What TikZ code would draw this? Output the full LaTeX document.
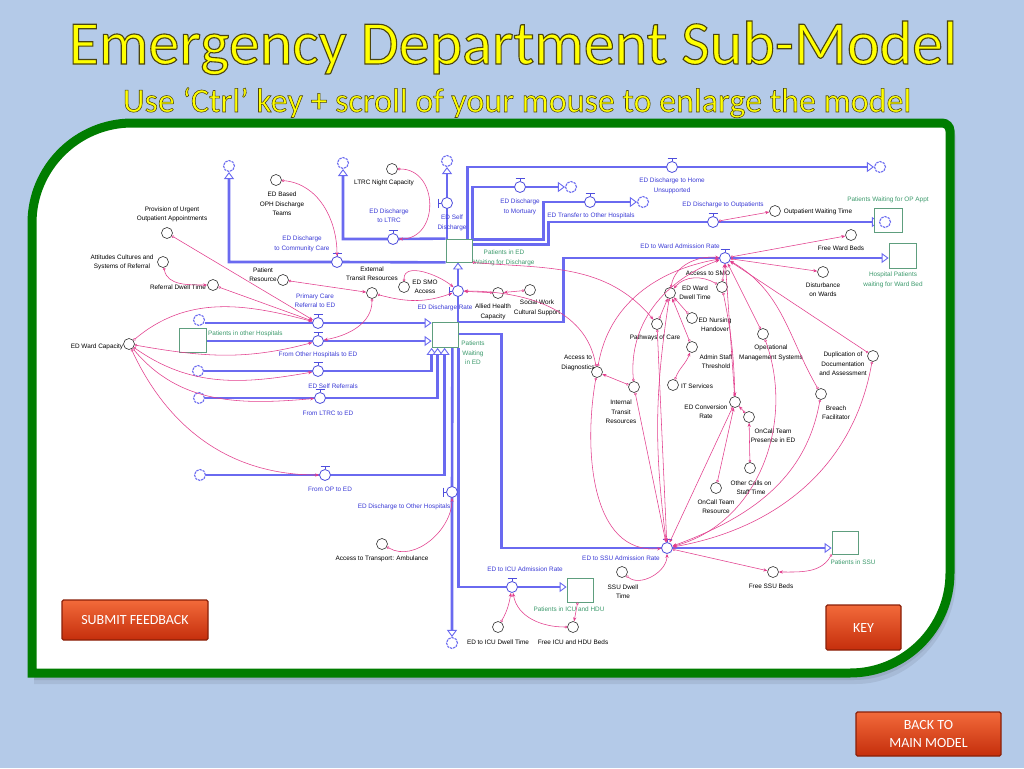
\documentclass[tikz,border=0pt]{standalone}
\usepackage{fontspec}
\setmainfont{Liberation Sans}
\newfontfamily\slidefont{Carlito}
\usetikzlibrary{arrows.meta}
\definecolor{slidebg}{HTML}{B4CAE8}
\definecolor{framegreen}{HTML}{007D00}
\definecolor{titleyellow}{HTML}{FFFF00}
\definecolor{pipeblue}{HTML}{6A6AF0}
\definecolor{valveblue}{HTML}{4E4EDC}
\definecolor{flowtext}{HTML}{3A3AD6}
\definecolor{stockline}{HTML}{5E9E7E}
\definecolor{stocktext}{HTML}{3C9A6C}
\definecolor{linkpink}{HTML}{E23C8C}
\definecolor{btnhi}{HTML}{F26A3A}
\definecolor{btnlo}{HTML}{C52E0C}

\pgfdeclarelayer{bg}
\pgfdeclarelayer{pipes}
\pgfsetlayers{bg,pipes,main}

\tikzset{
  lab/.style={font=\fontsize{6.4}{9.4}\selectfont, align=center, inner sep=0pt},
  stock/.style={draw=stockline, fill=white, line width=0.8pt, inner sep=0pt},
  stocklab/.style={lab, text=stocktext},
  conv/.style={circle, draw=black!80, fill=white, line width=0.6pt, minimum size=11pt, inner sep=0pt},
  convlab/.style={lab, text=black},
  valve/.style={circle, draw=valveblue, fill=white, line width=0.8pt, minimum size=11pt, inner sep=0pt},
  valvebar/.style={draw=valveblue, line width=0.8pt},
  flowlab/.style={lab, text=flowtext},
  cloud/.style={circle, draw=pipeblue, fill=white, line width=1.1pt, dash pattern=on 2.4pt off 0.9pt, minimum size=11pt, inner sep=0pt},
  pipe/.style={draw=pipeblue, line width=2.6pt},
  pipein/.style={pipe, -{Triangle[fill=white, length=7pt, width=10pt, line width=0.9pt]}},
  link/.style={draw=linkpink, line width=0.55pt, {Circle[open, length=2.6pt, width=2.6pt, line width=0.5pt]}-{Stealth[length=4pt, width=3.2pt]}},
  button/.style={draw=btnlo!70!black, line width=1.2pt, top color=btnhi, bottom color=btnlo, text=white, align=center, rounded corners=1.5pt, font=\slidefont\fontsize{14}{17}\selectfont}
}

\newcommand\valvetop[1]{\draw[valvebar] (#1.north) -- ++(0,-3) ++(-4.5,0) -- ++(9,0);}
\newcommand\valveside[1]{\draw[valvebar] (#1.west) -- ++(-3,0) ++(0,-4.5) -- ++(0,9);}
% yellow letters with a dark edge (fill and stroke); #1 = edge width
\newcommand\edged[2]{\textcolor{titleyellow}{\special{pdf:literal direct 2 Tr #1 w 0.3 0.27 0.05 RG}#2\special{pdf:literal direct 0 Tr}}}

\begin{document}
\begin{tikzpicture}[x=1pt,y=-1pt]
  \useasboundingbox (0,0) rectangle (1024,768);

  \begin{pgfonlayer}{bg}
    \fill[slidebg] (0,0) rectangle (1024,768);
    % soft shadow of the panel
    \fill[black,opacity=.07] (34,684) -- (34,229) .. controls (34,174) and (79,129) .. (134,129) -- (948,129) .. controls (952.4,129) and (956,132.6) .. (956,137) -- (956,579) .. controls (956,634) and (911,684) .. (856,684) -- cycle;
    \fill[black,opacity=.08] (34,680) -- (34,227) .. controls (34,172) and (79,127) .. (134,127) -- (946,127) .. controls (950.4,127) and (954,130.6) .. (954,135) -- (954,577) .. controls (954,632) and (909,680) .. (854,680) -- cycle;
    % panel
    \fill[white] (32,673) -- (32,223) .. controls (32,168) and (77,123) .. (132,123) -- (942,123) .. controls (946.4,123) and (950,126.6) .. (950,131) -- (950,573) .. controls (950,628) and (905,673) .. (850,673) -- cycle;
    \draw[framegreen, line width=9pt] (32,673) -- (32,223) .. controls (32,168) and (77,123) .. (132,123) -- (942,123) .. controls (946.4,123) and (950,126.6) .. (950,131) -- (950,573) .. controls (950,628) and (905,673) .. (850,673) -- cycle;
  \end{pgfonlayer}

  % title
  \node[font=\slidefont\fontsize{62}{62}\selectfont, anchor=base, inner sep=0pt] (title) at (513,64) {\edged{1.1}{Emergency Department Sub-Model}};
  \node[font=\slidefont\fontsize{34}{34}\selectfont, anchor=base, inner sep=0pt] (sub) at (517,112) {\edged{0.55}{Use ‘Ctrl’ key + scroll of your mouse to enlarge the model}};

  % stocks
  \node[stock, minimum width=26pt, minimum height=23pt] (wd) at (459,250.5) {};
  \node[stock, minimum width=26pt, minimum height=25pt] (we) at (445,335) {};
  \node[stock, minimum width=27pt, minimum height=24pt] (oh) at (192.5,340) {};
  \node[stock, minimum width=28pt, minimum height=24pt] (opq) at (888,220) {};
  \node[stock, minimum width=27pt, minimum height=25pt] (hw) at (902.5,256) {};
  \node[stock, minimum width=26pt, minimum height=23pt] (ssu) at (845,542.5) {};
  \node[stock, minimum width=26pt, minimum height=24pt] (icu) at (580,590) {};

  \node[stocklab] (lwd) at (504,258) {Patients in ED\\Waiting for Discharge};
  \node[stocklab] (lwe) at (473,353) {Patients\\Waiting\\in ED};
  \node[stocklab, anchor=west] (loh) at (208,334) {Patients in other Hospitals};
  \node[stocklab] (lopq) at (888,200) {Patients Waiting for OP Appt};
  \node[stocklab] (lhw) at (893,280) {Hospital Patients\\waiting for Ward Bed};
  \node[stocklab] (lssu) at (853,562) {Patients in SSU};
  \node[stocklab] (licu) at (569,609) {Patients in ICU and HDU};

  % clouds
  \node[cloud] (ccom) at (229,166) {};
  \node[cloud] (cltrc) at (343,163) {};
  \node[cloud] (csd) at (447,161) {};
  \node[cloud] (chome) at (880,167) {};
  \node[cloud] (cmort) at (571,187) {};
  \node[cloud] (ctrans) at (643,202) {};
  \node[cloud] (cop) at (885,222) {};
  \node[cloud] (cpc) at (199,320) {};
  \node[cloud] (csr) at (198,371) {};
  \node[cloud] (clr) at (199,398) {};
  \node[cloud] (copin) at (200,475) {};
  \node[cloud] (cdo) at (452,643) {};

  % valves
  \node[valve] (vcom) at (337,262) {};
  \node[valve] (vlt) at (393,239) {};
  \node[valve] (vsd) at (447,203) {};
  \node[valve] (vhome) at (672,167) {};
  \node[valve] (vmort) at (520,187) {};
  \node[valve] (vtrans) at (590,202) {};
  \node[valve] (vopo) at (713,222) {};
  \node[valve] (vward) at (725,258) {};
  \node[valve] (vdis) at (458,291) {};
  \node[valve] (vpc) at (318,323) {};
  \node[valve] (voh) at (318,341) {};
  \node[valve] (vsr) at (318,371) {};
  \node[valve] (vlr) at (320,398) {};
  \node[valve] (vopin) at (325,475) {};
  \node[valve] (vdo) at (452,492) {};
  \node[valve] (vicu) at (512,587) {};
  \node[valve] (vssu) at (667,548) {};
  \valvetop{vcom} \valvetop{vlt} \valvetop{vhome} \valvetop{vmort}
  \valvetop{vtrans} \valvetop{vopo} \valvetop{vward} \valvetop{vpc}
  \valvetop{voh} \valvetop{vsr} \valvetop{vlr} \valvetop{vopin}
  \valvetop{vicu} \valvetop{vssu}
  \valveside{vsd} \valveside{vdis} \valveside{vdo}

  \node[flowlab] (lcom) at (302,244) {ED Discharge\\to Community Care};
  \node[flowlab] (llt) at (389,216) {ED Discharge\\to LTRC};
  \node[flowlab] (lsd) at (452,223) {ED Self\\Discharge};
  \node[flowlab] (lhome) at (672,186) {ED Discharge to Home\\Unsupported};
  \node[flowlab] (lmort) at (520,207) {ED Discharge\\to Mortuary};
  \node[flowlab] (ltrans) at (591,216) {ED Transfer to Other Hospitals};
  \node[flowlab] (lopo) at (723,205) {ED Discharge to Outpatients};
  \node[flowlab] (lward) at (680,246) {ED to Ward Admission Rate};
  \node[flowlab] (ldis) at (445,308) {ED Discharge Rate};
  \node[flowlab] (lpc) at (315,300.5) {Primary Care\\Referral to ED};
  \node[flowlab] (loh2) at (318,355) {From Other Hospitals to ED};
  \node[flowlab] (lsr) at (333,386) {ED Self Referrals};
  \node[flowlab] (llr) at (328,413) {From LTRC to ED};
  \node[flowlab] (lopin) at (330,489) {From OP to ED};
  \node[flowlab] (ldo) at (404,507) {ED Discharge to Other Hospitals};
  \node[flowlab] (licu2) at (525,569) {ED to ICU Admission Rate};
  \node[flowlab] (lssu2) at (621,558) {ED to SSU Admission Rate};

  % converters
  \node[conv] (opht) at (276,180) {};
  \node[conv] (ltn) at (392,169) {};
  \node[conv] (prov) at (167,233) {};
  \node[conv] (att) at (163,262) {};
  \node[conv] (ref) at (213,285) {};
  \node[conv] (pres) at (283,280) {};
  \node[conv] (etr) at (372,293) {};
  \node[conv] (smo) at (404,287) {};
  \node[conv] (ahc) at (498,293) {};
  \node[conv] (scw) at (530,290) {};
  \node[conv] (ewc) at (129,344) {};
  \node[conv] (owt) at (775,211) {};
  \node[conv] (fwb) at (851,235) {};
  \node[conv] (dow) at (823,272) {};
  \node[conv] (asmo) at (722,287) {};
  \node[conv] (ewdt) at (670,293) {};
  \node[conv] (ednh) at (692,318) {};
  \node[conv] (poc) at (657,324) {};
  \node[conv] (ast) at (692,347) {};
  \node[conv] (its) at (673,385) {};
  \node[conv] (adg) at (597,372) {};
  \node[conv] (itr) at (634,387) {};
  \node[conv] (ecr) at (735,402) {};
  \node[conv] (ocp) at (749,417) {};
  \node[conv] (ocs) at (750,468) {};
  \node[conv] (octr) at (716,488) {};
  \node[conv] (oms) at (763,334) {};
  \node[conv] (dup) at (873,356) {};
  \node[conv] (bfc) at (821,394) {};
  \node[conv] (ssdw) at (622,572) {};
  \node[conv] (fssu) at (773,572) {};
  \node[conv] (ficu) at (573,627) {};
  \node[conv] (icdw) at (498,627) {};
  \node[conv] (ata) at (382,544) {};

  \node[convlab] (lopht) at (282,204) {ED Based\\OPH Discharge\\Teams};
  \node[convlab] (lltn) at (384,183) {LTRC Night Capacity};
  \node[convlab] (lprov) at (172,214.5) {Provision of Urgent\\Outpatient Appointments};
  \node[convlab] (latt) at (122,262.5) {Attitudes Cultures and\\Systems of Referral};
  \node[convlab] (lref) at (178,287) {Referral Dwell Time};
  \node[convlab] (lpres) at (263,275) {Patient\\Resource};
  \node[convlab] (letr) at (372,274) {External\\Transit Resources};
  \node[convlab] (lsmo) at (425,287) {ED SMO\\Access};
  \node[convlab] (lahc) at (493,312) {Allied Health\\Capacity};
  \node[convlab] (lscw) at (537,308) {Social Work\\Cultural Support};
  \node[convlab] (lewc) at (97,347) {ED Ward Capacity};
  \node[convlab] (lowt) at (818,212) {Outpatient Waiting Time};
  \node[convlab] (lfwb) at (841,248) {Free Ward Beds};
  \node[convlab] (ldow) at (823,290) {Disturbance\\on Wards};
  \node[convlab] (lasmo) at (708,273) {Access to SMO};
  \node[convlab] (lewdt) at (695,293) {ED Ward\\Dwell Time};
  \node[convlab] (lednh) at (715,325) {ED Nursing\\Handover};
  \node[convlab] (lpoc) at (655,338) {Pathways of Care};
  \node[convlab] (last) at (716,362) {Admin Staff\\Threshold};
  \node[convlab] (lits) at (697,386) {IT Services};
  \node[convlab] (ladg) at (578,363) {Access to\\Diagnostics};
  \node[convlab] (litr) at (621,412) {Internal\\Transit\\Resources};
  \node[convlab] (lecr) at (706,412) {ED Conversion\\Rate};
  \node[convlab] (locp) at (773,436) {OnCall Team\\Presence in ED};
  \node[convlab] (locs) at (751,488) {Other Calls on\\Staff Time};
  \node[convlab] (loctr) at (716,507) {OnCall Team\\Resource};
  \node[convlab] (loms) at (771,353) {Operational\\Management Systems};
  \node[convlab] (ldup) at (843,364) {Duplication of\\Documentation\\and Assessment};
  \node[convlab] (lbfc) at (836,413) {Breach\\Facilitator};
  \node[convlab] (lssdw) at (623,592) {SSU Dwell\\Time};
  \node[convlab] (lfssu) at (771,586) {Free SSU Beds};
  \node[convlab] (lficu) at (573,642) {Free ICU and HDU Beds};
  \node[convlab] (licdw) at (498,642) {ED to ICU Dwell Time};
  \node[convlab] (lata) at (382,559) {Access to Transport: Ambulance};

  % flows
  \begin{pgfonlayer}{pipes}
    \draw[pipein] (wd.south west) -- (vcom.center) -| (ccom);
    \draw[pipein] (wd.north west) -- (vlt.center) -| (cltrc);
    \draw[pipein] (vsd.center |- wd.north) -- (vsd.center) -- (csd);
    \draw[pipein] ([xshift=-5pt]wd.north east) |- (vhome.center) -- (chome);
    \draw[pipein] (wd.north east) |- (vmort.center) -- (cmort);
    \draw[pipein] ([yshift=-1pt]wd.north east) -- ++(71,0) |- (vtrans.center) -- (ctrans);
    \draw[pipein] ([yshift=-6pt]wd.north east) -- ++(76,0) |- (vopo.center) -- (cop);
    \draw[pipein] (vdis.center |- we.north) -- (vdis.center) -- (vdis.center |- wd.south);
    \draw[pipein] (we.north east) -- ++(105,0) |- (vward.center) -- (vward.center -| hw.west);
    \draw[pipein] ([yshift=-12pt]we.north east) -- ++(43,0) |- (vssu.center) -- (vssu.center -| ssu.west);
    \draw[pipein] (we.south east) |- (vicu.center) -- (vicu.center -| icu.west);
    \draw[pipein] ([xshift=-6pt]we.south east) -- (vdo.center) -- (cdo);
    \draw[pipein] (cpc.east |- vpc) -- (vpc.center) -- (vpc.center -| we.west);
    \draw[pipein] (oh.east |- voh) -- (voh.center) -- (voh.center -| we.west);
    \draw[pipein] (csr) -- (vsr.center) -| (we.south west);
    \draw[pipein] (clr) -- (vlr.center) -| ([xshift=6pt]we.south west);
    \draw[pipein] (copin) -- (vopin.center) -| ([xshift=13pt]we.south west);
  \end{pgfonlayer}

  % links
  \draw[link] (opht) to[out=-5,in=90] (vcom);
  \draw[link] (ltn) to[out=0,in=0,looseness=1.5] (vlt);
  \draw[link] (prov) -- (vpc);
  \draw[link] (att) to[out=-80,in=180] (ref);
  \draw[link] (ref) -- (vpc);
  \draw[link] (pres) -- (etr);
  \draw[link] (etr) to[out=-15,in=200] (vdis);
  \draw[link] (etr) to[out=-90,in=10] (voh);
  \draw[link] (smo) to[out=90,in=140] (vdis);
  \draw[link] (ahc) -- (vdis);
  \draw[link] (scw) -- (ahc);
  \draw[link] (ewc) to[out=40,in=165] (vpc);
  \draw[link] (ewc) to[out=-10,in=195] (voh);
  \draw[link] (ewc) to[out=-35,in=190] (vsr);
  \draw[link] (ewc) to[out=-50,in=185] (vlr);
  \draw[link] (ewc) to[out=-65,in=180] (vopin);
  \draw[link] (ata) to[out=-30,in=-90] (vdo);
  \draw[link] (icdw) to[out=60,in=-100] (vicu);
  \draw[link] (ficu) to[out=180,in=-80] (vicu);
  \draw[link] (icu) -- (ficu);
  \draw[link] (ssdw) to[out=-40,in=-90] (vssu);
  \draw[link] (vssu) -- (fssu);
  \draw[link] (ssu.south west) to[out=-120,in=0] (fssu);
  \draw[link] (vopo) -- (owt);
  \draw[link] (vward) -- (fwb);
  \draw[link] (vward) -- (dow);
  \draw[link] (asmo) to[out=150,in=50] (ewdt);
  \draw[link] (ednh) -- (ewdt);
  \draw[link] (ast) -- (ewdt);
  \draw[link] (its) to[out=70,in=-110] (ast);
  \draw[link] (poc) -- (ewdt);
  \draw[link] (ewdt) to[out=80,in=175] (vward);
  \draw[link] (asmo) -- (vward);
  \draw[link] (asmo) to[bend left=5] (ecr);
  \draw[link] (itr) -- (adg);
  \draw[link] (adg) to[out=80,in=190] (vward);
  \draw[link] (adg) to[out=-100,in=185] (vssu);
  \draw[link] (itr) to[out=95,in=200] (vward);
  \draw[link] (itr) -- (vssu);
  \draw[link] (poc) -- (vssu);
  \draw[link] (ewdt) to[bend right=8] (vssu);
  \draw[link] (ecr) -- (vward);
  \draw[link] (ecr) -- (vssu);
  \draw[link] (ocp) -- (ecr);
  \draw[link] (ocs) -- (ocp);
  \draw[link] (octr) -- (ecr);
  \draw[link] (oms) -- (vward);
  \draw[link] (oms) to[out=-70,in=15] (vssu);
  \draw[link] (bfc) to[out=120,in=-30] (vward);
  \draw[link] (bfc) to[out=-100,in=20] (vssu);
  \draw[link] (dup) -- (vward);
  \draw[link] (dup) to[out=-100,in=10] (vssu);
  \draw[link] (wd.south east) to[out=-5,in=130] (poc);
  \draw[link] (adg) to[out=100,in=0] (vdis);

  % buttons
  \node[button, minimum width=146pt, minimum height=40pt] (submit) at (135,620) {SUBMIT FEEDBACK};
  \node[button, minimum width=75pt, minimum height=45pt] (key) at (863.5,627.5) {KEY};
  \node[button, minimum width=145pt, minimum height=44pt, font=\slidefont\fontsize{14}{18}\selectfont] (back) at (928.5,734) {BACK TO\\MAIN MODEL};
\end{tikzpicture}
\end{document}
